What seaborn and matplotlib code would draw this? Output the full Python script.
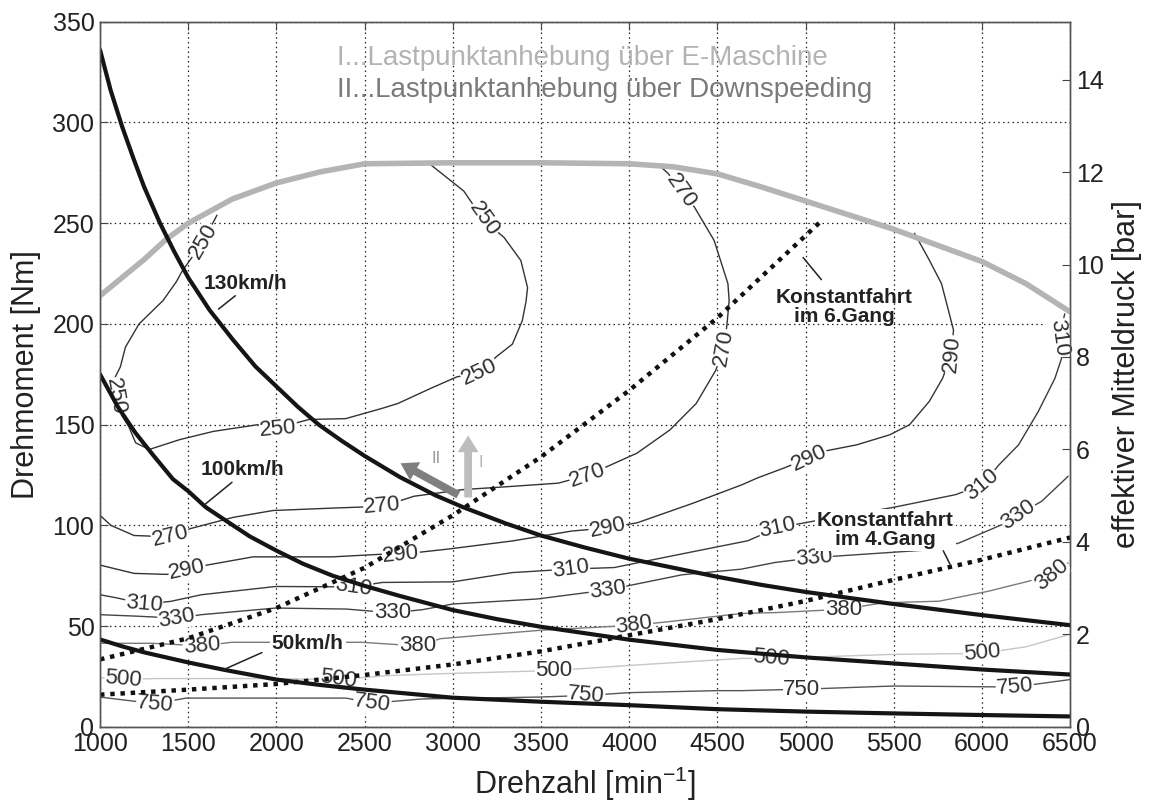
import matplotlib
matplotlib.use("Agg")
import matplotlib.pyplot as plt
import seaborn as sns

# ---------------- data ----------------
# full-load torque curve
rpm_full = [1000, 1125, 1250, 1375, 1500, 1625, 1750, 2000, 2250, 2500, 3000, 3500, 4000, 4250,
            4500, 4750, 5000, 5250, 5500, 5750, 6000, 6250, 6500]
nm_full = [214, 223, 232, 242, 250, 256, 262, 270, 275.5, 279.5, 280, 280, 279.5, 278,
           274.5, 268, 261, 254, 247, 239, 231, 220, 206]

# road-load curves at constant vehicle speed
rpm_130 = [1000, 1060, 1125, 1190, 1250, 1340, 1420, 1500, 1620, 1755, 1880, 2000, 2120, 2240, 2370,
           2500, 2700, 2900, 3060, 3300, 3500, 3750, 4000, 4250, 4500, 4750, 5000, 5500, 6000, 6500]
nm_130 = [336, 316, 298, 282, 268, 250, 236, 223, 207, 192, 179, 169, 159, 150, 142,
          134.5, 124, 115, 109, 101, 95, 89, 83.5, 79, 74.5, 70.5, 67, 61, 55.5, 50.5]
rpm_100 = [1000, 1100, 1200, 1300, 1413, 1500, 1600, 1720, 1850, 2000, 2150, 2320, 2500, 2700, 3000,
           3250, 3500, 4000, 4500, 5000, 5500, 6000, 6500]
nm_100 = [175, 159, 146, 135, 123, 117, 109, 102, 94.5, 87.5, 81, 75, 70, 65, 58,
          53.5, 49.7, 43.3, 38.2, 34.5, 31.5, 28.5, 26]
rpm_50 = [1000, 1125, 1250, 1375, 1500, 1700, 2000, 2250, 2500, 3000, 3500, 4000, 4500, 5000, 5500,
          6000, 6500]
nm_50 = [43.4, 40, 37, 34.5, 32, 28.4, 23.5, 20.8, 18.5, 14.5, 12.5, 10.8, 8.8, 7.6, 6.7,
         5.9, 5.2]

# constant driving in gear
rpm_g6 = [1000, 1500, 2000, 2500, 3000, 3500, 4000, 4500, 5100]
nm_g6 = [33.5, 44, 59, 79, 105, 134, 167, 203, 252]
rpm_g4 = [1000, 1500, 2000, 2500, 3000, 3500, 4000, 4500, 5000, 5500, 6000, 6500]
nm_g4 = [16, 18.5, 21.3, 25.8, 31, 37.5, 45.5, 53.5, 62.5, 73, 83, 94]

# BSFC iso-lines [g/kWh]
c250_rpm = [1663, 1585, 1464, 1433, 1356, 1221, 1144, 1115, 1087, 1085, 1120, 1163, 1202, 1279, 1452,
            1644, 1894, 2008, 2186, 2392, 2595, 2688, 2874, 3022, 3152, 3245, 3338, 3394, 3415, 3424,
            3386, 3290, 3176, 3062, 2875]
c250_nm = [254, 241, 226, 221, 211.5, 200, 188.5, 178.7, 173.8, 164, 155, 149, 141, 137.7, 142.6,
           146.7, 150, 148.5, 152.6, 153, 158, 160.5, 168, 173.7, 176, 183.6, 190, 201.6, 211, 218,
           231.5, 243, 251.4, 266, 279]
c270_rpm = [1000, 1062, 1193, 1287, 1399, 1511, 1755, 1980, 2317, 2600, 2781, 3060, 3338, 3599, 3766,
            3877, 4045, 4231, 4380, 4491, 4538, 4555, 4567, 4560, 4482, 4370, 4295, 4221, 4160]
c270_nm = [105, 100, 95, 94.7, 94.2, 98.4, 104, 107.4, 108.6, 109.5, 114.5, 117.8, 119.4, 121, 125,
           129.3, 135.9, 147.4, 160.5, 177, 188.5, 200, 211.6, 220, 241.4, 258, 266, 274.7, 279.5]
c290_rpm = [1000, 1193, 1380, 1493, 1605, 1867, 2317, 2595, 2706, 2967, 3338, 3673, 3877, 4045, 4361,
            4640, 4728, 4878, 5019, 5103, 5290, 5478, 5590, 5702, 5777, 5828, 5839, 5771, 5700, 5618]
c290_nm = [80.3, 76.2, 75.7, 77.8, 80.3, 84.4, 84.4, 85.7, 85.7, 88.2, 92.3, 97.2, 98.8, 101.3, 111,
           120.2, 123.6, 128.5, 133.5, 136.8, 140, 145, 150, 161.6, 173, 185, 197, 220, 232, 245]
c310_rpm = [1000, 1097, 1249, 1400, 1574, 1996, 2437, 2600, 3000, 3338, 3654, 3915, 4295, 4673, 4841,
            5100, 5500, 5852, 6002, 6096, 6208, 6320, 6414, 6452, 6436, 6470]
c310_nm = [65.6, 64, 61, 62.3, 65.6, 69.7, 69.5, 71.7, 72, 76.6, 78.3, 79.1, 85.8, 92.4, 98.8,
           103, 109, 115.3, 120.2, 130, 140, 156.6, 173, 183, 193, 205]
c330_rpm = [1000, 1200, 1435, 1574, 1996, 2396, 2657, 2829, 3000, 3479, 3878, 4300, 4636, 4826, 5047,
            5159, 5721, 5871, 6114, 6208, 6339, 6489]
c330_nm = [55.7, 55, 54, 55.7, 59, 58.5, 56.6, 58.2, 61, 63.5, 68, 75.5, 78.3, 81.6, 84,
           84.7, 88, 91.3, 100.4, 105.4, 112, 124.4]
c380_rpm = [1000, 1300, 1577, 1747, 2100, 2483, 2799, 2931, 3500, 3825, 4028, 4200, 4636, 4848, 5215,
            5440, 5758, 6039, 6264, 6395, 6489]
c380_nm = [41.5, 41.5, 40.2, 42, 42, 42, 40.2, 43.8, 48, 49.5, 50.5, 52, 56.3, 56.8, 58.4,
           61.6, 62.4, 67.4, 72.3, 75.6, 81.4]
c500_rpm = [1000, 1133, 1314, 1963, 2352, 2613, 2931, 3574, 4000, 4636, 4806, 5496, 6000, 6252, 6500]
c500_nm = [24.5, 23.5, 24, 24, 23.5, 25.4, 26.4, 28, 30.5, 34, 34, 36, 36.5, 39.8, 46]
c750_rpm = [1000, 1312, 1487, 2396, 2543, 2829, 3479, 3757, 4000, 4499, 4636, 4978, 5496, 6187, 6500]
c750_nm = [14.8, 11.5, 14.3, 14.3, 11.8, 13.9, 14.8, 15.6, 17, 18, 18, 18.7, 20.3, 19.8, 23.5]

# inline label positions (rpm, Nm, angle)
labels_250 = [(1585, 241, 60), (1087, 164, -80), (2010, 148, 5), (3152, 176, 25), (3176, 252, -55)]
labels_270 = [(1399, 94.5, 14), (2600, 109.5, 5), (3766, 125, 20), (4538, 188, 80), (4295, 266, -55)]
labels_290 = [(1493, 78, 12), (2706, 85.7, 6), (3877, 99, 12), (5019, 133.5, 25), (5828, 185, 85)]
labels_310 = [(1249, 61, -5), (2437, 69.5, -8), (3670, 78.3, 8), (4841, 99, 12), (6002, 120.2, 40),
              (6436, 193, -82)]
labels_330 = [(1435, 54, 10), (2657, 56.6, 0), (3878, 68, 8), (5047, 84, 5), (6208, 105.4, 35)]
labels_380 = [(1577, 40.2, 5), (2799, 40.2, 0), (4028, 50.5, 8), (5215, 58.4, 0), (6395, 75.6, 40)]
labels_500 = [(1133, 23.5, -5), (2352, 23.5, -8), (3574, 28, 0), (4806, 34, -5), (6000, 36.5, 5)]
labels_750 = [(1312, 11.5, -5), (2543, 11.8, -8), (3757, 15.6, -5), (4978, 18.7, 0), (6187, 19.8, 5)]

# ---------------- style ----------------
sns.set_theme(style="white")
plt.rcParams['font.family'] = ['Liberation Sans', 'DejaVu Sans']
plt.rcParams['mathtext.fontset'] = 'custom'
plt.rcParams['mathtext.rm'] = 'Liberation Sans'
plt.rcParams['mathtext.it'] = 'Liberation Sans:italic'

fig = plt.figure(figsize=(11.5, 8.05), dpi=100)
ax = fig.add_axes([0.087, 0.097, 0.8435, 0.876])

contours = [
    (250, c250_rpm, c250_nm, labels_250, '#333333'),
    (270, c270_rpm, c270_nm, labels_270, '#333333'),
    (290, c290_rpm, c290_nm, labels_290, '#333333'),
    (310, c310_rpm, c310_nm, labels_310, '#3a3a3a'),
    (330, c330_rpm, c330_nm, labels_330, '#444444'),
    (380, c380_rpm, c380_nm, labels_380, '#7a7a7a'),
    (500, c500_rpm, c500_nm, labels_500, '#c6c6c6'),
    (750, c750_rpm, c750_nm, labels_750, '#555555'),
]
for lvl, xs, ys, labs, col in contours:
    sns.lineplot(x=xs, y=ys, sort=False, estimator=None, ax=ax, color=col, lw=1.0,
                 legend=False, zorder=2)
    for (lx, ly, rot) in labs:
        ax.text(lx, ly, str(lvl), rotation=rot, rotation_mode='anchor', ha='center', va='center',
                fontsize=16, color='#303030', zorder=3,
                bbox=dict(boxstyle='square,pad=0.02', fc='white', ec='none'))

# full load
sns.lineplot(x=rpm_full, y=nm_full, sort=False, estimator=None, ax=ax, color='#b4b4b4', lw=4.0,
             legend=False, zorder=4)
# gear lines
for xs, ys in [(rpm_g6, nm_g6), (rpm_g4, nm_g4)]:
    sns.lineplot(x=xs, y=ys, sort=False, estimator=None, ax=ax, color='#111111', lw=3.2,
                 linestyle=(0, (1.0, 1.3)), legend=False, zorder=5)
# speed lines
for xs, ys in [(rpm_130, nm_130), (rpm_100, nm_100), (rpm_50, nm_50)]:
    sns.lineplot(x=xs, y=ys, sort=False, estimator=None, ax=ax, color='#151515', lw=3.0,
                 legend=False, zorder=6)

# arrows
ax.annotate('', xy=(3087, 146), xytext=(3087, 112.5),
            arrowprops=dict(arrowstyle='simple,head_length=0.6,head_width=0.75,tail_width=0.28',
                            color='#bdbdbd', lw=0, mutation_scale=20), zorder=7)
ax.annotate('', xy=(2690, 131.5), xytext=(3045, 114.5),
            arrowprops=dict(arrowstyle='simple,head_length=0.6,head_width=0.75,tail_width=0.28',
                            color='#7f7f7f', lw=0, mutation_scale=20), zorder=7)
ax.text(3160, 131, 'I', color='#b5b5b5', fontsize=12, ha='center', va='center', zorder=7)
ax.text(2905, 133, 'II', color='#9a9a9a', fontsize=12, ha='center', va='center', zorder=7)

# annotations
bold = dict(fontsize=15, fontweight='bold', color='#222222', zorder=8)
ax.text(1824, 220, '130km/h', ha='center', va='center', **bold)
ax.plot([1767, 1672], [214, 207.4], color='#222222', lw=1.1, zorder=8)
ax.text(1809, 128, '100km/h', ha='center', va='center', **bold)
ax.plot([1748, 1597], [121.4, 110.6], color='#222222', lw=1.1, zorder=8)
ax.text(2178, 41.3, '50km/h', ha='center', va='center',
        bbox=dict(boxstyle='square,pad=0.1', fc='white', ec='none'), **bold)
ax.plot([1918, 1700], [36.9, 28.4], color='#222222', lw=1.1, zorder=8)
ax.text(5218, 208.6, 'Konstantfahrt\nim 6.Gang', ha='center', va='center', linespacing=1.0, **bold)
ax.plot([4986, 5090], [233, 222], color='#222222', lw=1.1, zorder=8)
ax.text(5453, 97.9, 'Konstantfahrt\nim 4.Gang', ha='center', va='center', linespacing=1.0,
        bbox=dict(boxstyle='square,pad=0.1', fc='white', ec='none'), **bold)
ax.plot([5781, 5819], [87.4, 80.8], color='#222222', lw=1.1, zorder=8)

# legend-like header text
ax.text(2346, 332, 'I...Lastpunktanhebung über E-Maschine', color='#b3b3b3', fontsize=20,
        ha='left', va='center', zorder=8)
ax.text(2346, 316, 'II...Lastpunktanhebung über Downspeeding', color='#7a7a7a', fontsize=20,
        ha='left', va='center', zorder=8)

# axes
ax.set_xlim(1000, 6500)
ax.set_ylim(0, 350)
ax.set_xticks(range(1000, 6501, 500))
ax.set_yticks(range(0, 351, 50))
ax.grid(True, linestyle=(0, (1.2, 2.6)), lw=0.9, color='#222222')
ax.tick_params(axis='both', direction='in', length=6, width=0.8, labelsize=18, top=True,
               right=True, labelcolor='#222222', color='#444444', pad=4)
ax.set_xlabel('Drehzahl [min$^{-1}$]', fontsize=22, color='#222222', labelpad=6)
ax.set_ylabel('Drehmoment [Nm]', fontsize=22, color='#222222', labelpad=8)
for sp in ax.spines.values():
    sp.set_color('#555555')
    sp.set_linewidth(1.0)

ax2 = ax.twinx()
ax2.set_ylim(0, 350 / 22.95)
ax2.set_yticks(range(0, 15, 2))
ax2.tick_params(axis='y', direction='in', length=6, width=0.8, labelsize=18, labelcolor='#222222',
                color='#444444', pad=4)
ax2.set_ylabel('effektiver Mitteldruck [bar]', fontsize=22, color='#222222', labelpad=6)
for sp in ax2.spines.values():
    sp.set_color('#555555')
    sp.set_linewidth(1.0)
ax2.grid(False)

fig.savefig('out.png', dpi=100)
